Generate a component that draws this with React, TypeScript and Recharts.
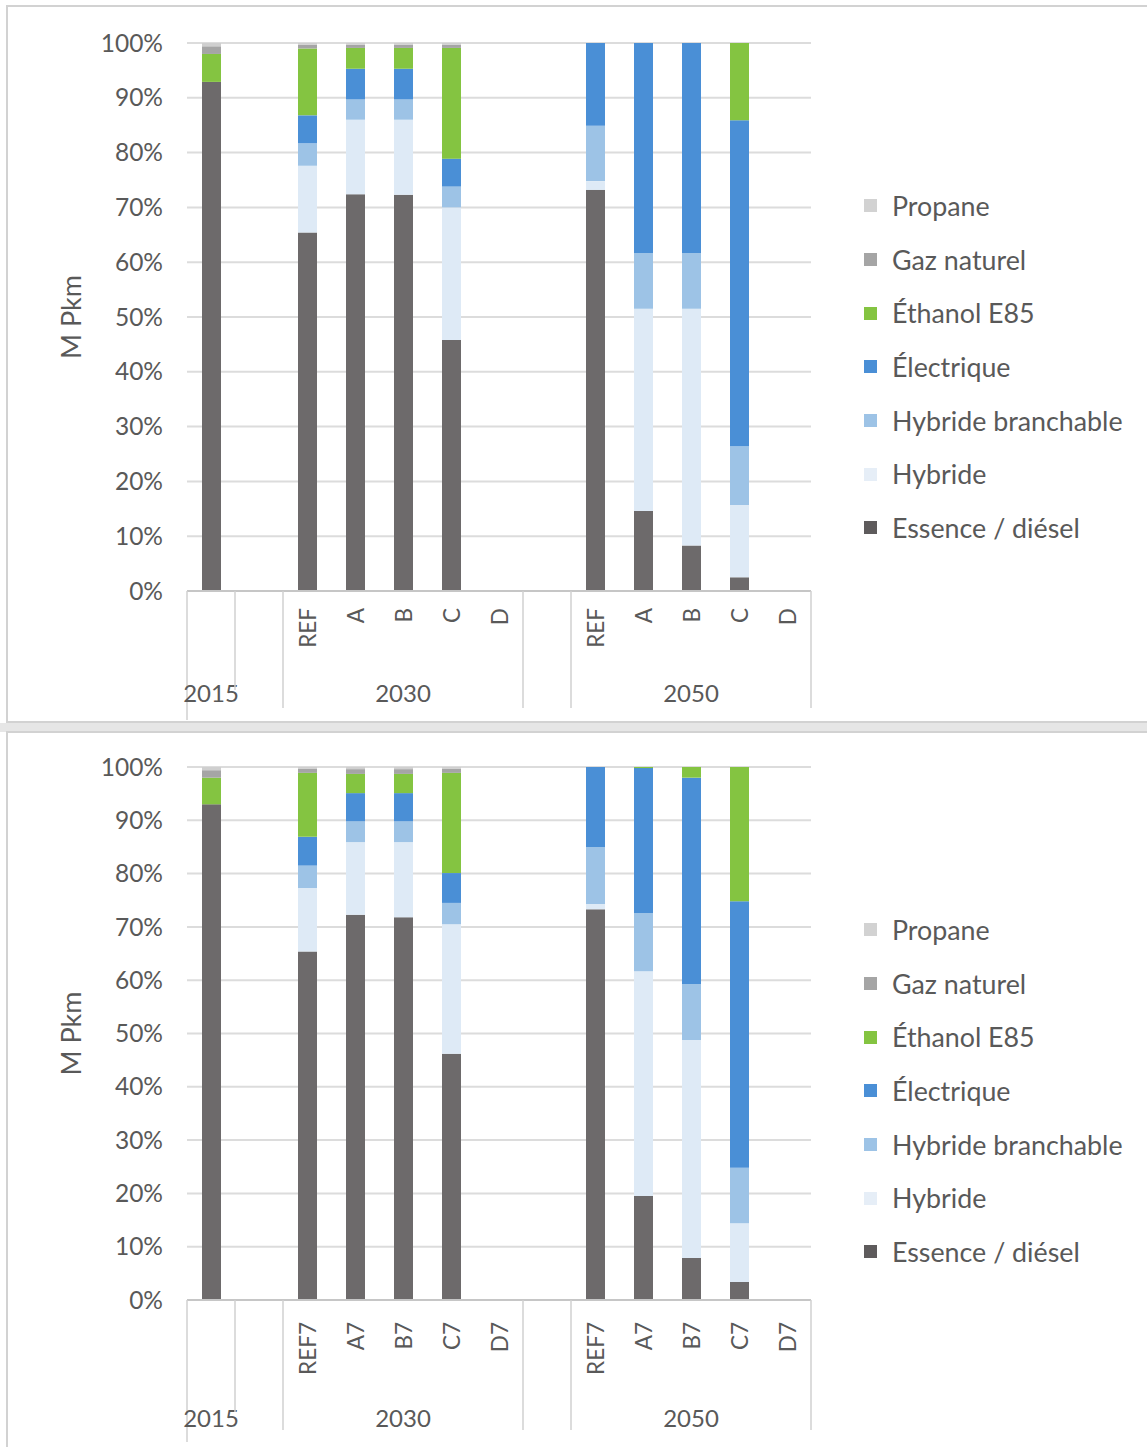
import React from "react";
import { BarChart, Bar, XAxis, YAxis, CartesianGrid, Legend } from "recharts";

// ---------- categories ----------
const SUB_LABELS_TOP = ["", "", "REF", "A", "B", "C", "D", "", "REF", "A", "B", "C", "D"];
const SUB_LABELS_BOTTOM = ["", "", "REF7", "A7", "B7", "C7", "D7", "", "REF7", "A7", "B7", "C7", "D7"];
const GROUP_LABELS = ["2015", "", "2030", "", "2050"];
const GROUP_STARTS = [0, 1, 2, 7, 8];
const GROUP_ENDS = [0, 1, 6, 7, 12];
const Y_TICKS = [0, 10, 20, 30, 40, 50, 60, 70, 80, 90, 100];

// ---------- series names & colours ----------
const SERIES_KEYS = ["essence", "hybride", "branchable", "electrique", "ethanol", "gaz", "propane"];
const SERIES_NAMES = ["Essence / diésel", "Hybride", "Hybride branchable", "Électrique", "Éthanol E85", "Gaz naturel", "Propane"];
const SERIES_COLORS = ["#6d6a6b", "#deeaf6", "#9dc3e6", "#4a8fd6", "#84c441", "#a5a5a5", "#cfcfcf"];
const LEGEND_COLORS = ["#5e5b5c", "#e6eef7", "#9dc3e6", "#4a8fd6", "#84c441", "#a5a5a5", "#d2d2d2"];

// ---------- top chart values (%) ----------
const ESSENCE_TOP = [92.9, 0, 65.4, 72.4, 72.3, 45.8, 0, 0, 73.2, 14.6, 8.3, 2.5, 0];
const HYBRIDE_TOP = [0, 0, 12.2, 13.6, 13.7, 24.2, 0, 0, 1.6, 36.9, 43.2, 13.2, 0];
const BRANCHABLE_TOP = [0, 0, 4.1, 3.7, 3.7, 3.8, 0, 0, 10.1, 10.2, 10.2, 10.7, 0];
const ELECTRIQUE_TOP = [0, 0, 5.1, 5.6, 5.6, 5.1, 0, 0, 15.1, 38.3, 38.3, 59.5, 0];
const ETHANOL_TOP = [5.1, 0, 12.2, 3.8, 3.8, 20.2, 0, 0, 0, 0, 0, 14.1, 0];
const GAZ_TOP = [1.4, 0, 0.7, 0.6, 0.6, 0.6, 0, 0, 0, 0, 0, 0, 0];
const PROPANE_TOP = [0.6, 0, 0.3, 0.3, 0.3, 0.3, 0, 0, 0, 0, 0, 0, 0];

// ---------- bottom chart values (%) ----------
const ESSENCE_BOTTOM = [93.0, 0, 65.4, 72.3, 71.8, 46.2, 0, 0, 73.3, 19.5, 7.9, 3.4, 0];
const HYBRIDE_BOTTOM = [0, 0, 11.9, 13.6, 14.1, 24.3, 0, 0, 1.0, 42.2, 40.9, 11.0, 0];
const BRANCHABLE_BOTTOM = [0, 0, 4.2, 3.9, 3.9, 4.0, 0, 0, 10.7, 10.9, 10.5, 10.4, 0];
const ELECTRIQUE_BOTTOM = [0, 0, 5.4, 5.3, 5.3, 5.6, 0, 0, 15.0, 27.2, 38.7, 50.0, 0];
const ETHANOL_BOTTOM = [5.0, 0, 12.0, 3.6, 3.6, 18.8, 0, 0, 0, 0.2, 2.0, 25.2, 0];
const GAZ_BOTTOM = [1.4, 0, 0.8, 0.9, 0.9, 0.8, 0, 0, 0, 0, 0, 0, 0];
const PROPANE_BOTTOM = [0.6, 0, 0.3, 0.4, 0.4, 0.3, 0, 0, 0, 0, 0, 0, 0];

const FONT = "Lato, 'Open Sans', sans-serif";
const TEXT = "#595959";
const WIDTH = 1147;
const MARGIN_RIGHT = 336;
const YAXIS_W = 187;
const SLOT = (WIDTH - MARGIN_RIGHT - YAXIS_W) / SUB_LABELS_TOP.length;

function buildData(sub: string[], series: number[][]) {
  return sub.map((s, i) => {
    const row: any = { id: i, sub: s };
    SERIES_KEYS.forEach((k, j) => (row[k] = series[j][i]));
    return row;
  });
}

const DATA_TOP = buildData(SUB_LABELS_TOP, [ESSENCE_TOP, HYBRIDE_TOP, BRANCHABLE_TOP, ELECTRIQUE_TOP, ETHANOL_TOP, GAZ_TOP, PROPANE_TOP]);
const DATA_BOTTOM = buildData(SUB_LABELS_BOTTOM, [ESSENCE_BOTTOM, HYBRIDE_BOTTOM, BRANCHABLE_BOTTOM, ELECTRIQUE_BOTTOM, ETHANOL_BOTTOM, GAZ_BOTTOM, PROPANE_BOTTOM]);

function makeTick(sub: string[], lineLen: number, subDy: number, groupDy: number) {
  return (props: any) => {
    const { x, y, payload } = props;
    const i = payload && payload.index != null ? payload.index : props.index;
    const label = sub[i];
    const gIdx = GROUP_STARTS.findIndex((s, g) => Math.floor((s + GROUP_ENDS[g]) / 2) === i);
    const isStart = GROUP_STARTS.includes(i);
    const isLast = i === sub.length - 1;
    const sy = y + subDy;
    const len = i === 1 ? lineLen - 18 : i === 0 ? lineLen + 12 : lineLen;
    return (
      <g>
        {isStart && (
          <line x1={x - SLOT / 2} x2={x - SLOT / 2} y1={y} y2={y + len} stroke="#d0d0d0" strokeWidth={1.5} />
        )}
        {isLast && (
          <line x1={x + SLOT / 2} x2={x + SLOT / 2} y1={y} y2={y + lineLen} stroke="#d0d0d0" strokeWidth={1.5} />
        )}
        {label && (
          <text
            x={x}
            y={sy}
            transform={`rotate(-90 ${x} ${sy})`}
            textAnchor="end"
            dominantBaseline="central"
            fontSize={22.5}
            fontFamily={FONT}
            fill={TEXT}
          >
            {label}
          </text>
        )}
        {gIdx >= 0 && GROUP_LABELS[gIdx] && (
          <text x={x} y={y + groupDy} textAnchor="middle" dominantBaseline="central" fontSize={24} fontFamily={FONT} fill={TEXT}>
            {GROUP_LABELS[gIdx]}
          </text>
        )}
      </g>
    );
  };
}

const YTitle = (props: any) => {
  const vb = props.viewBox || { y: 0, height: 0 };
  const cx = 70;
  const cy = vb.y + vb.height / 2;
  return (
    <text
      x={cx}
      y={cy}
      transform={`rotate(-90 ${cx} ${cy})`}
      textAnchor="middle"
      dominantBaseline="central"
      fontSize={27}
      fontFamily={FONT}
      fill={TEXT}
    >
      M Pkm
    </text>
  );
};

const LegendContent = () => {
  const items = SERIES_NAMES.map((n, i) => ({ name: n, color: LEGEND_COLORS[i] })).reverse();
  return (
    <div style={{ fontFamily: FONT }}>
      {items.map((it) => (
        <div key={it.name} style={{ height: 53.7, display: "flex", alignItems: "center" }}>
          <span style={{ display: "inline-block", width: 13, height: 13, background: it.color, marginRight: 15 }} />
          <span style={{ fontSize: 26.8, color: TEXT, whiteSpace: "nowrap" }}>{it.name}</span>
        </div>
      ))}
    </div>
  );
};

function Panel(props: {
  data: any[];
  sub: string[];
  height: number;
  top: number;
  axisH: number;
  lineLen: number;
  subDy: number;
  groupDy: number;
  legendTop: number;
}) {
  const { data, sub, height, top, axisH, lineLen, subDy, groupDy, legendTop } = props;
  return (
    <BarChart
      width={WIDTH}
      height={height}
      data={data}
      margin={{ top, right: MARGIN_RIGHT, bottom: 0, left: 0 }}
      barCategoryGap={0}
    >
      <CartesianGrid vertical={false} stroke="#dcdcdc" strokeWidth={2} />
      <XAxis
        dataKey="id"
        type="category"
        height={axisH}
        interval={0}
        tickLine={false}
        tickSize={0}
        tickMargin={0}
        axisLine={{ stroke: "#c6c6c6", strokeWidth: 2 }}
        tick={makeTick(sub, lineLen, subDy, groupDy)}
      />
      <YAxis
        width={YAXIS_W}
        domain={[0, 100]}
        ticks={Y_TICKS}
        interval={0}
        allowDataOverflow
        tickFormatter={(v: number) => `${v}%`}
        tickLine={false}
        axisLine={false}
        tickSize={0}
        tickMargin={24}
        tick={{ fontSize: 24.5, fontFamily: FONT, fill: TEXT }}
        label={<YTitle />}
      />
      <Legend
        layout="horizontal"
        verticalAlign="middle"
        align="center"
        content={<LegendContent />}
        wrapperStyle={{ left: 864, top: legendTop, width: 283, right: "auto", bottom: "auto" }}
      />
      {SERIES_KEYS.map((k, i) => (
        <Bar
          key={k}
          dataKey={k}
          name={SERIES_NAMES[i]}
          stackId="s"
          fill={SERIES_COLORS[i]}
          barSize={19}
          isAnimationActive={false}
        />
      ))}
    </BarChart>
  );
}

export default function App() {
  return (
    <div style={{ position: "absolute", left: 0, top: 0, width: WIDTH, height: 1447, background: "#ffffff", overflow: "hidden" }}>
      <div style={{ position: "absolute", left: 0, top: 723, width: WIDTH, height: 9, background: "#e6e6e6" }} />
      <div
        style={{ position: "absolute", left: 6, top: 5, width: 1160, height: 718, border: "2px solid #d2d2d2", background: "#fff", boxSizing: "border-box" }}
      />
      <div
        style={{ position: "absolute", left: 6, top: 731, width: 1160, height: 730, border: "2px solid #d2d2d2", background: "#fff", boxSizing: "border-box" }}
      />
      <div style={{ position: "absolute", left: 0, top: 0 }}>
        <Panel data={DATA_TOP} sub={SUB_LABELS_TOP} height={728} top={43} axisH={137} lineLen={117} subDy={17} groupDy={101} legendTop={179} />
      </div>
      <div style={{ position: "absolute", left: 0, top: 730 }}>
        <Panel data={DATA_BOTTOM} sub={SUB_LABELS_BOTTOM} height={717} top={37} axisH={147} lineLen={130} subDy={22} groupDy={117} legendTop={173} />
      </div>
    </div>
  );
}
